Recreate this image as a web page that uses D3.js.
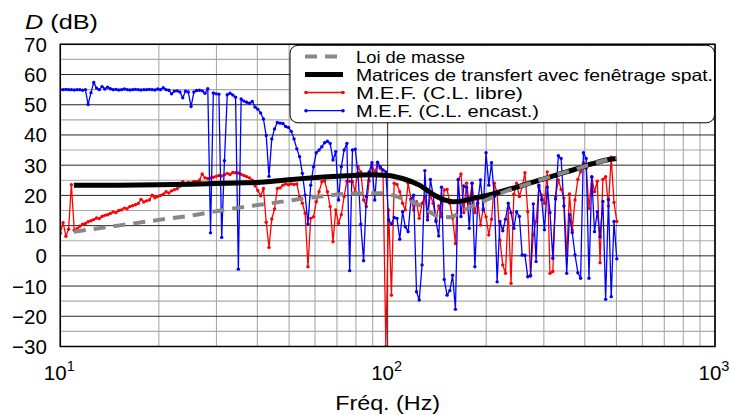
<!DOCTYPE html>
<html><head><meta charset="utf-8">
<script src="https://cdn.jsdelivr.net/npm/d3@7"></script>
<style>
body{margin:0;background:#fff}
svg{display:block}
text{font-family:"Liberation Sans",Arial,sans-serif;fill:#000}
</style>
</head><body>
<svg id="chart" width="731" height="415"></svg>
<script>
// ---------- DATA ----------
const freqHz = [
10.0,10.20,10.40,10.60,10.81,11.03,11.25,11.47,11.70,11.93,
12.16,12.41,12.65,12.90,13.15,13.41,13.68,13.95,14.22,14.50,
14.79,15.08,15.38,15.69,16.00,16.31,16.63,16.96,17.30,17.64,
17.99,18.34,18.71,19.08,19.45,19.84,20.23,20.63,21.04,21.46,
21.88,22.31,22.75,23.20,23.66,24.13,24.60,25.09,25.59,26.09,
26.61,27.13,27.67,28.22,28.77,29.34,29.92,30.51,31.12,31.73,
32.36,33.00,33.65,34.31,34.99,35.68,36.39,37.11,37.84,38.59,
39.36,40.13,40.93,41.74,42.56,43.40,44.26,45.13,46.03,46.94,
47.86,48.81,49.77,50.76,51.76,52.78,53.83,54.89,55.98,57.08,
58.21,59.36,60.53,61.73,62.95,64.19,65.46,66.75,68.08,69.42,
70.79,72.19,73.62,75.07,76.56,78.07,79.61,81.18,82.79,84.43,
86.10,87.80,89.54,91.31,93.11,94.95,96.83,98.74,100.7,102.7,
104.7,106.8,108.9,111.1,113.2,115.5,117.8,120.1,122.5,124.9,
127.4,129.9,132.4,135.1,137.7,140.5,143.2,146.1,148.9,151.9,
154.9,157.9,161.1,164.3,167.5,170.8,174.2,177.6,181.1,184.7,
188.4,192.1,195.9,199.8,203.7,207.7,211.8,216.0,220.3,224.7,
229.1,233.6,238.2,243.0,247.7,252.6,257.6,262.7,267.9,273.2,
278.6,284.1,289.7,295.5,301.3,307.3,313.3,319.6,325.8,332.3,
338.8,345.5,352.4,359.3,366.4,373.6,381.1,388.6,396.3,404.1,
412.1,420.3,428.5,437.0,445.6,454.4,463.4,472.6,481.9,491.4,
501.2];

// M.E.F. (C.L. libre) — red
const mefLibre = [
7.5,11,6.5,8.8,23.5,8.5,9,9.8,10.5,10.7,
11.3,11.6,12,12.5,12.3,13,13.4,13.6,14,14.5,
14.3,15,15.2,15.8,15.6,16.3,16.6,16.9,17.3,18.7,
17.8,18.2,18.5,20.1,19.2,19.6,20,20.4,21.2,20.8,
21.5,21.9,22.2,23,24.5,23.6,24.3,24,24.6,24.5,
25,27.1,25.8,25.6,25.8,26,26.3,26.6,26.4,26.8,
27.3,26.9,27.6,27.5,27.4,27,26.6,26.2,25.8,25,
23.2,21.6,19.9,22.3,11.1,2.8,12.2,15.5,22.3,22.5,
23.4,23.8,23.5,23.8,23.6,23.8,19.5,17.4,14.1,-3.6,
12.4,12.9,17.9,21.2,24.5,24.8,21.2,16.3,4.7,15.2,
10.8,13.6,19.6,24.7,24.7,24.5,21.2,29.5,27.8,18.5,
16.3,24.8,30.1,27.8,30.1,29,27,-30,15.2,-13,
24,23.6,21.2,17.4,15.2,24,19,15.2,17.9,12.4,
17.4,19.6,12.9,20.1,17.4,11.9,16.5,12.9,21.8,22,
17.4,12.4,4.1,25.1,27.1,14.3,24,17.4,24,14.3,
18.5,10.2,15.7,12.9,6.9,12.1,24,20.7,5.2,-3,
-5.8,15.7,-9.1,20.4,24,19.6,22.9,27.5,14.6,-6.4,
6.9,11.4,22.7,20.1,17.4,27.8,-5.8,-5.2,19.6,25.1,
22,19.1,0.3,20.5,8.6,18.5,25.3,27.8,30.8,29,
15.7,26,21.2,24.7,-2.3,25.3,26.2,16.5,32.6,17.7,
11.4];

// M.E.F. (C.L. encast.) — blue
const mefEncast = [
55,55,55.1,55,55,54.9,55,55,54.8,55,
50.1,54,57.4,55.5,55,56,55.2,55.8,55.3,55,
55.1,54.9,55,55.2,55,54.9,55,55.1,55,54.9,
55,55,55.1,55,54.9,55.2,55,55.6,55,54.8,
53.6,54.5,54.6,54.2,52.3,54.5,54.2,49.4,54.2,54.7,
54.8,54.6,53.8,55.3,7.6,53.9,53.6,53.5,6.1,31.5,
53.3,53.8,53.2,52.5,-4.4,51.9,51.2,50.8,50.5,51.1,
49.2,48.5,47.3,45.3,39.8,26.3,38.7,42,44.1,43.9,
43.8,42.8,42.5,41.2,38.7,35.4,32.8,27.3,20.1,10.5,
23.4,29.5,34.1,35,36.1,37.4,37.9,37.2,31.7,34.5,
18.5,29.5,35,37.2,-4.9,35,35.3,27.3,10.5,-1.6,
19.6,27.8,30.8,18.5,31,29.5,28.4,27.8,11.9,10.5,
12.7,12.4,5.5,14.6,9.6,8,18.5,20.1,-11.9,-14.6,
-3,28.2,11.9,25.3,20.1,11.4,6.6,22.7,-7.8,-13,
-11.5,-6.4,-17.7,25.3,13,23.1,22.7,9.1,24,-3.6,
17.4,25.1,15.2,34.1,23.4,30.8,19.6,-8.6,11.4,8.3,
12.1,17.4,14.3,9.1,14.6,13,0.3,0.2,-6.9,-6.7,
17.2,-1.9,23.4,18.6,8.6,22.7,14.3,-0.8,18.8,33.1,
32.2,16.5,-5.8,13.6,7.7,0.3,-5.6,-7.4,34.1,32.2,
-7.4,26.2,8,14.6,6.3,18,-14.4,18.6,-13.5,11.4,
-1];

// Matrices de transfert avec fenêtrage spat. — black
const matFreq = [11,15,20,25,30,35,40,44,50,62,75,88,100,111,125,140,150,158,170,182,200,231,260,292,330,368,420,466,500];
const matDB   = [23.4,23.4,23.5,23.7,23.9,24.1,24.3,24.6,25.2,26.0,26.5,26.8,26.6,25.6,23.4,19.9,18.4,17.9,18.2,19.0,19.9,21.8,23.4,25.1,26.9,28.4,30.4,31.7,32.2];

// Loi de masse — gray dashed
const masseFreq = [11,15,20,25,32,44,54,62,78,95,111,125,144,155,170,190,205,231,260,292,330,368,420,466,500];
const masseDB   = [8.0,10.0,11.9,13.3,15.3,17.4,18.8,19.6,20.6,20.7,19.0,16.8,13.0,12.8,15.0,17.4,19.0,21.5,23.3,25.1,26.9,28.4,30.4,31.7,32.3];

const yMajorTicks = [-30,-20,-10,0,10,20,30,40,50,60,70];
const yMinorTicks = [-25,-15,-5,5,15,25,35,45,55,65];
const xMajorTicks = [10,100,1000];
const xTickExp = ["1","2","3"];
const xMinorTicks = [20,30,40,50,60,70,80,90,200,300,400,500,600,700,800,900];
const legendLabels = ["Loi de masse","Matrices de transfert avec fenêtrage spat.","M.E.F. (C.L. libre)","M.E.F. (C.L. encast.)"];
const xTitle = "Fréq. (Hz)";

// ---------- LAYOUT ----------
const L = 60.3, R = 715, T = 44.3, B = 346.5;
const svg = d3.select("#chart");
const x = d3.scaleLog().domain([10,1000]).range([L,R]);
const y = d3.scaleLinear().domain([-30,70]).range([B,T]);

svg.append("defs").append("clipPath").attr("id","clip")
  .append("rect").attr("x",L).attr("y",T).attr("width",R-L).attr("height",B-T);

const grid = svg.append("g");
grid.selectAll(".ymin").data(yMinorTicks).join("line")
  .attr("x1",L).attr("x2",R).attr("y1",d=>y(d)).attr("y2",d=>y(d))
  .attr("stroke","#aaa").attr("stroke-width",1.1);
grid.selectAll(".xmin").data(xMinorTicks).join("line")
  .attr("y1",T).attr("y2",B).attr("x1",d=>x(d)).attr("x2",d=>x(d))
  .attr("stroke","#aaa").attr("stroke-width",1.1);
grid.selectAll(".ymaj").data(yMajorTicks).join("line")
  .attr("x1",L).attr("x2",R).attr("y1",d=>y(d)).attr("y2",d=>y(d))
  .attr("stroke","#111").attr("stroke-width",0.9);
grid.selectAll(".xmaj").data(xMajorTicks).join("line")
  .attr("y1",T).attr("y2",B).attr("x1",d=>x(d)).attr("x2",d=>x(d))
  .attr("stroke","#111").attr("stroke-width",0.9);

const plot = svg.append("g").attr("clip-path","url(#clip)");

// FEM series
function series(vals, color){
  const pts = freqHz.map((f,i)=>[f, vals[i]]).filter(p=>p[1]!==undefined);
  const line = d3.line().x(d=>x(d[0])).y(d=>y(d[1]));
  plot.append("path").datum(pts).attr("d",line)
    .attr("fill","none").attr("stroke",color).attr("stroke-width",1.3).attr("stroke-linejoin","round");
  plot.append("g").selectAll("circle").data(pts).join("circle")
    .attr("cx",d=>x(d[0])).attr("cy",d=>y(d[1])).attr("r",1.7).attr("fill",color);
}
series(mefLibre, "#ff0000");
series(mefEncast, "#0000ff");

// Matrices (black)
const matPts = matFreq.map((f,i)=>[f,matDB[i]]);
const smooth = d3.line().x(d=>x(d[0])).y(d=>y(d[1])).curve(d3.curveMonotoneX);
plot.append("path").datum(matPts).attr("d",smooth)
  .attr("fill","none").attr("stroke","#000").attr("stroke-width",5);

// Loi de masse (gray dashed)
const massePts = masseFreq.map((f,i)=>[f,masseDB[i]]);
plot.append("path").datum(massePts).attr("d",smooth)
  .attr("fill","none").attr("stroke","#888").attr("stroke-width",4)
  .attr("stroke-dasharray","12,8");

// frame
svg.append("rect").attr("x",L).attr("y",T).attr("width",R-L).attr("height",B-T)
  .attr("fill","none").attr("stroke","#000").attr("stroke-width",1.5);

// y tick labels
svg.append("g").selectAll("text").data(yMajorTicks).join("text")
  .attr("x",L-13.5).attr("y",d=>y(d)+7.5).attr("text-anchor","end")
  .attr("font-size",20.5)
  .text(d=> d<0 ? "\u2212"+Math.abs(d) : String(d));

// x tick labels
const xt = svg.append("g").selectAll("text").data(xMajorTicks).join("text")
  .attr("x",(d)=>x(d)-1).attr("y",380).attr("text-anchor","middle").attr("font-size",20.5);
xt.append("tspan").text("10");
xt.append("tspan").attr("dy",-9).attr("font-size",14.5).text((d,i)=>xTickExp[i]);

// axis titles
const yt = svg.append("text").attr("x",25).attr("y",28.5).attr("font-size",21)
  .attr("textLength",73).attr("lengthAdjust","spacingAndGlyphs");
yt.append("tspan").attr("font-style","italic").text("D");
yt.append("tspan").text(" (dB)");
svg.append("text").attr("x",(L+R)/2).attr("y",410).attr("text-anchor","middle")
  .attr("font-size",21).attr("textLength",105).attr("lengthAdjust","spacingAndGlyphs").text(xTitle);

// legend
const lg = svg.append("g");
const lx = 290, ly = 45.3, lw = 424.5, lh = 77.5;
lg.append("rect").attr("x",lx).attr("y",ly).attr("width",lw).attr("height",lh)
  .attr("rx",8).attr("ry",8).attr("fill","#fff").attr("stroke","#000").attr("stroke-width",1);
const rowY = [56.5, 74.5, 92.5, 110.7];
const textW = [109, 357, 167, 183];
const sx1 = 305, sx2 = 343;
lg.append("line").attr("x1",sx1).attr("x2",sx2).attr("y1",rowY[0]).attr("y2",rowY[0])
  .attr("stroke","#888").attr("stroke-width",4).attr("stroke-dasharray","12,8");
lg.append("line").attr("x1",sx1).attr("x2",sx2).attr("y1",rowY[1]).attr("y2",rowY[1])
  .attr("stroke","#000").attr("stroke-width",5);
[["#ff0000",2],["#0000ff",3]].forEach(([c,r])=>{
  lg.append("line").attr("x1",sx1+1).attr("x2",sx2).attr("y1",rowY[r]).attr("y2",rowY[r])
    .attr("stroke",c).attr("stroke-width",1.3);
  [sx1+1,sx2].forEach(cx=>lg.append("circle").attr("cx",cx).attr("cy",rowY[r]).attr("r",1.8).attr("fill",c));
});
lg.selectAll(".lt").data(legendLabels).join("text")
  .attr("x",356).attr("y",(d,i)=>rowY[i]+6).attr("font-size",16.5)
  .attr("textLength",(d,i)=>textW[i]).attr("lengthAdjust","spacingAndGlyphs")
  .text(d=>d);
</script>
</body></html>
